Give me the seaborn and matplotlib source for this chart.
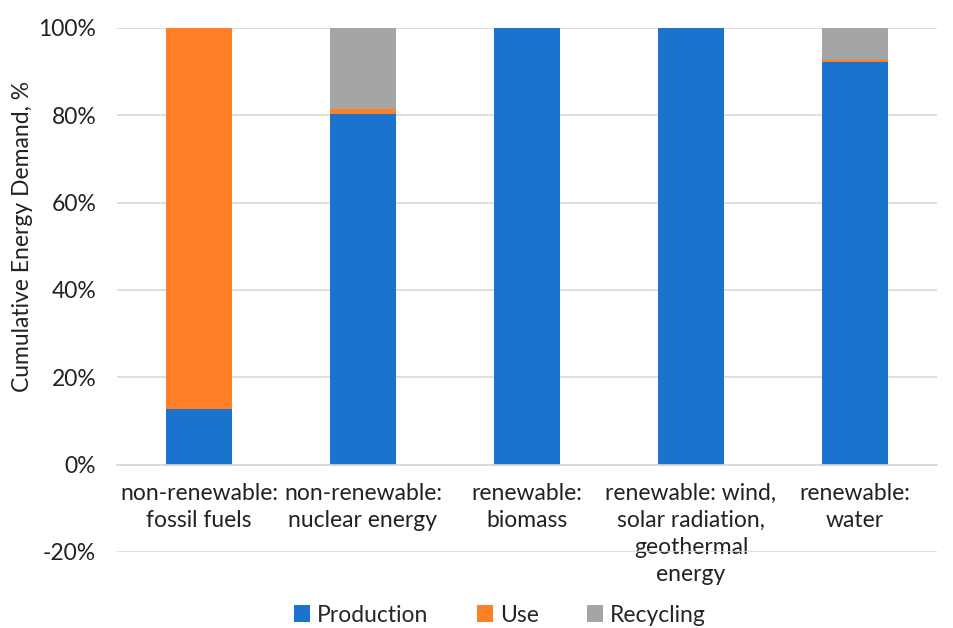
import matplotlib
matplotlib.use("Agg")
import matplotlib.pyplot as plt
import seaborn as sns
import pandas as pd
import numpy as np
from matplotlib.patches import Patch

categories = ["non-renewable:\nfossil fuels", "non-renewable:\nnuclear energy",
              "renewable:\nbiomass", "renewable: wind,\nsolar radiation,\ngeothermal\nenergy",
              "renewable:\nwater"]
production = [12.8, 80.2, 100.0, 100.0, 92.3]
use = [87.2, 1.2, 0.0, 0.0, 0.4]
recycling = [0.0, 18.6, 0.0, 0.0, 7.3]
series_names = ["Production", "Use", "Recycling"]
colors = ["#1A73CC", "#FF7F27", "#A5A5A5"]

sns.set_theme(style="white")
plt.rcParams['font.family'] = ['Lato', 'DejaVu Sans']
FS = 16.5

fig = plt.figure(figsize=(9.54, 6.28), dpi=100)
ax = fig.add_axes([117/954, 1-552/628, (937-117)/954, (552-28)/628])

prod = np.array(production)
lvl2 = prod + np.array(use)
lvl3 = lvl2 + np.array(recycling)
df = pd.DataFrame({"cat": categories, "p": prod, "u": lvl2, "r": lvl3})

for col, c in zip(["r", "u", "p"], colors[::-1]):
    sns.barplot(data=df, x="cat", y=col, color=c, width=0.4, ax=ax,
                saturation=1, linewidth=0, edgecolor="none")

ax.set_ylim(-20, 100)
ax.set_xlim(-0.5, 4.5)
ax.set_yticks(np.arange(-20, 101, 20))
ax.set_yticklabels([f"{v}%" for v in range(-20, 101, 20)], fontsize=FS, color="#222222")
ax.yaxis.grid(True, color="#D9D9D9", linewidth=1.2)
ax.set_axisbelow(True)
for s in ["top", "right", "left"]:
    ax.spines[s].set_visible(False)
ax.spines["bottom"].set_position(("data", 0))
ax.spines["bottom"].set_color("#D9D9D9")
ax.spines["bottom"].set_linewidth(1.2)
ax.tick_params(axis="x", length=0, pad=13)
ax.tick_params(axis="y", length=0, pad=15)
ax.set_xticks(range(len(categories)))
ax.set_xticklabels(categories, fontsize=FS, color="#222222", linespacing=1.35, va="top")
ax.set_xlabel("")
ax.set_ylabel("Cumulative Energy Demand, %", fontsize=FS, color="#222222")
ax.yaxis.set_label_coords(-0.102, 0.603)

handles = [Patch(facecolor=c, edgecolor="none") for c in colors]
fig.legend(handles, series_names, loc="center", bbox_to_anchor=(0.524, 1-615/628),
           ncol=3, frameon=False, fontsize=FS, handlelength=0.7, handleheight=0.7,
           handletextpad=0.3, columnspacing=2.1, borderpad=0)

fig.savefig("out.png", dpi=100)
